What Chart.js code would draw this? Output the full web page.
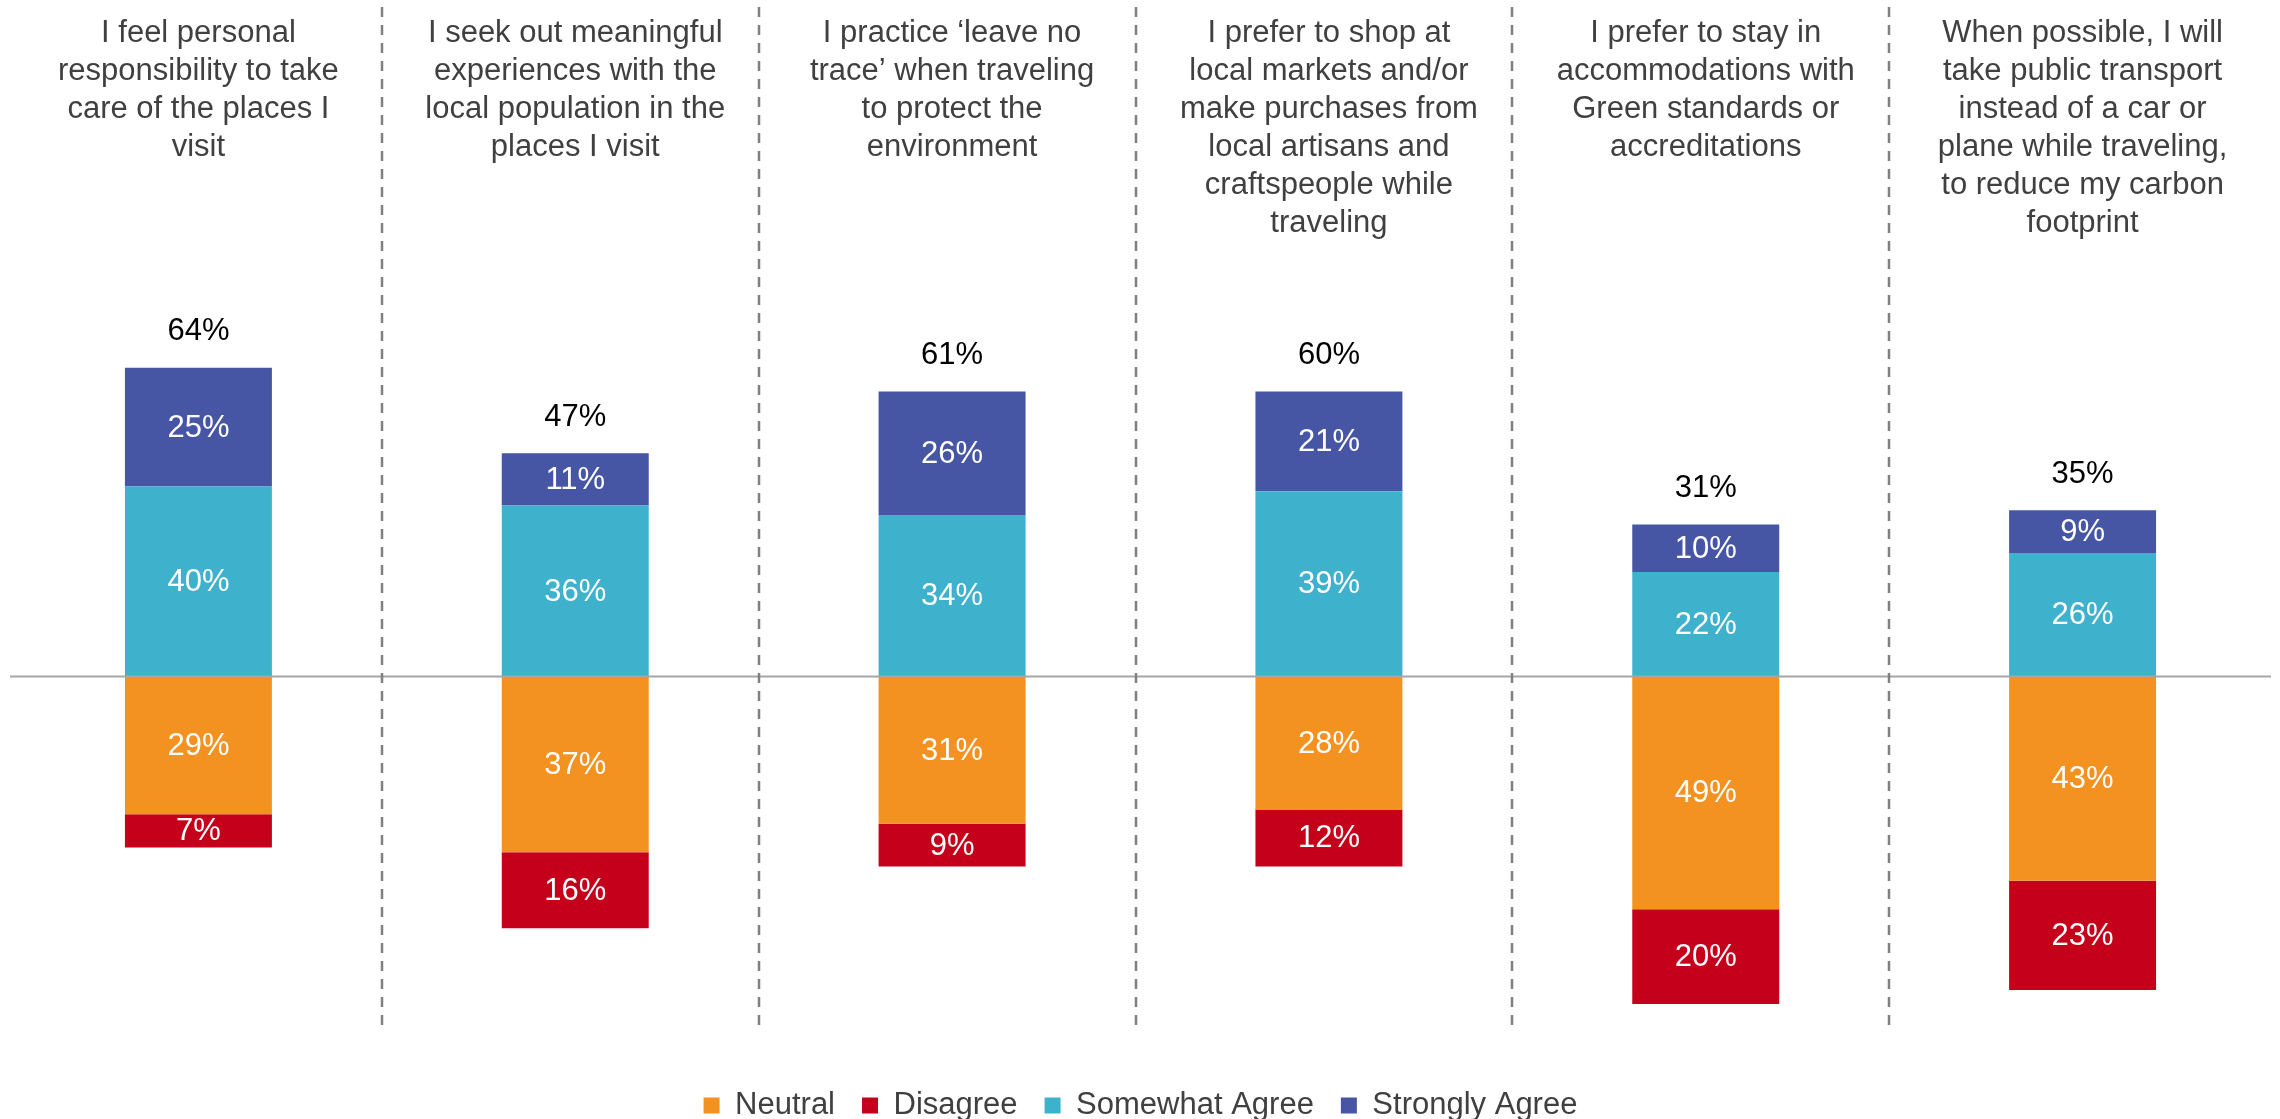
<!DOCTYPE html>
<html>
<head>
<meta charset="utf-8">
<title>Responsible travel attitudes</title>
<script src="https://cdn.jsdelivr.net/npm/chart.js@4.4.1/dist/chart.umd.min.js"></script>
<style>
  html, body { margin: 0; padding: 0; background: #fff; }
  #wrap { width: 2280px; height: 1119px; position: relative; }
</style>
</head>
<body>
<div id="wrap"><canvas id="likertChart"></canvas></div>
<script>
// ---- data ----
const categories = [
    ['I feel personal', 'responsibility to take', 'care of the places I', 'visit'],
    ['I seek out meaningful', 'experiences with the', 'local population in the', 'places I visit'],
    ['I practice \u2018leave no', 'trace\u2019 when traveling', 'to protect the', 'environment'],
    ['I prefer to shop at', 'local markets and/or', 'make purchases from', 'local artisans and', 'craftspeople while', 'traveling'],
    ['I prefer to stay in', 'accommodations with', 'Green standards or', 'accreditations'],
    ['When possible, I will', 'take public transport', 'instead of a car or', 'plane while traveling,', 'to reduce my carbon', 'footprint']
];

const neutral = [29, 37, 31, 28, 49, 43];
const disagree = [7, 16, 9, 12, 20, 23];
const somewhatAgree = [40, 36, 34, 39, 22, 26];
const stronglyAgree = [25, 11, 26, 21, 10, 9];
const agreeTotals = [64, 47, 61, 60, 31, 35];

const FONT = "'Liberation Sans', Arial, Helvetica, sans-serif";

// Neutral / Disagree go below the zero line
const datasets = [
    { label: 'Neutral', data: neutral.map(v => -v), backgroundColor: '#F39121' },
    { label: 'Disagree', data: disagree.map(v => -v), backgroundColor: '#C5001A' },
    { label: 'Somewhat Agree', data: somewhatAgree, backgroundColor: '#3EB1CD' },
    { label: 'Strongly Agree', data: stronglyAgree, backgroundColor: '#4755A5' }
];

// zero line + dashed separators between the statements
const guidesPlugin = {
    id: 'guides',
    afterDatasetsDraw(chart) {
        const ctx = chart.ctx;
        const x = chart.scales.x;
        const y = chart.scales.y;
        const area = chart.chartArea;
        ctx.save();
        ctx.strokeStyle = '#A6A6A6';
        ctx.lineWidth = 2;
        const y0 = y.getPixelForValue(0);
        ctx.beginPath();
        ctx.moveTo(area.left, y0);
        ctx.lineTo(area.right, y0);
        ctx.stroke();

        ctx.strokeStyle = '#808080';
        ctx.lineWidth = 2.5;
        ctx.setLineDash([10, 8]);
        for (let i = 0; i < categories.length - 1; i++) {
            // separators sit a touch left of the exact midpoint in the original
            const xm = Math.round((x.getPixelForValue(i) + x.getPixelForValue(i + 1)) / 2) - 5;
            ctx.beginPath();
            ctx.moveTo(xm, 7);
            ctx.lineTo(xm, 1028);
            ctx.stroke();
        }
        ctx.restore();
    }
};

// value labels inside segments and totals above the bars
const valueLabelsPlugin = {
    id: 'valueLabels',
    afterDatasetsDraw(chart) {
        const ctx = chart.ctx;
        ctx.save();
        ctx.font = '31px ' + FONT;
        ctx.textAlign = 'center';
        ctx.textBaseline = 'middle';
        chart.data.datasets.forEach((ds, di) => {
            const meta = chart.getDatasetMeta(di);
            meta.data.forEach((bar, i) => {
                ctx.fillStyle = '#FFFFFF';
                ctx.fillText(Math.abs(ds.data[i]) + '%', bar.x, (bar.y + bar.base) / 2 + 1);
            });
        });
        const top = chart.getDatasetMeta(3);
        top.data.forEach((bar, i) => {
            ctx.fillStyle = '#000000';
            ctx.fillText(agreeTotals[i] + '%', bar.x, bar.y - 36);
        });
        ctx.restore();
    }
};

new Chart(document.getElementById('likertChart'), {
    type: 'bar',
    data: { labels: categories, datasets: datasets },
    options: {
        responsive: true,
        maintainAspectRatio: false,
        animation: false,
        layout: { padding: { top: 4, left: 10, right: 9, bottom: -12 } },
        datasets: {
            bar: { barPercentage: 0.39, categoryPercentage: 1.0 }
        },
        scales: {
            x: {
                position: 'top',
                stacked: true,
                grid: { display: false, drawTicks: false },
                border: { display: false },
                ticks: {
                    color: '#404040',
                    font: { family: FONT, size: 31, lineHeight: 38 / 31 },
                    padding: 10,
                    crossAlign: 'far',
                    maxRotation: 0,
                    autoSkip: false
                }
            },
            y: {
                stacked: true,
                display: false,
                min: -81.4,
                max: 89.4
            }
        },
        plugins: {
            legend: {
                position: 'bottom',
                labels: {
                    color: '#404040',
                    font: { family: FONT, size: 31 },
                    boxWidth: 16,
                    boxHeight: 16,
                    padding: 27
                }
            },
            tooltip: { enabled: false }
        }
    },
    plugins: [guidesPlugin, valueLabelsPlugin]
});
</script>
</body>
</html>
